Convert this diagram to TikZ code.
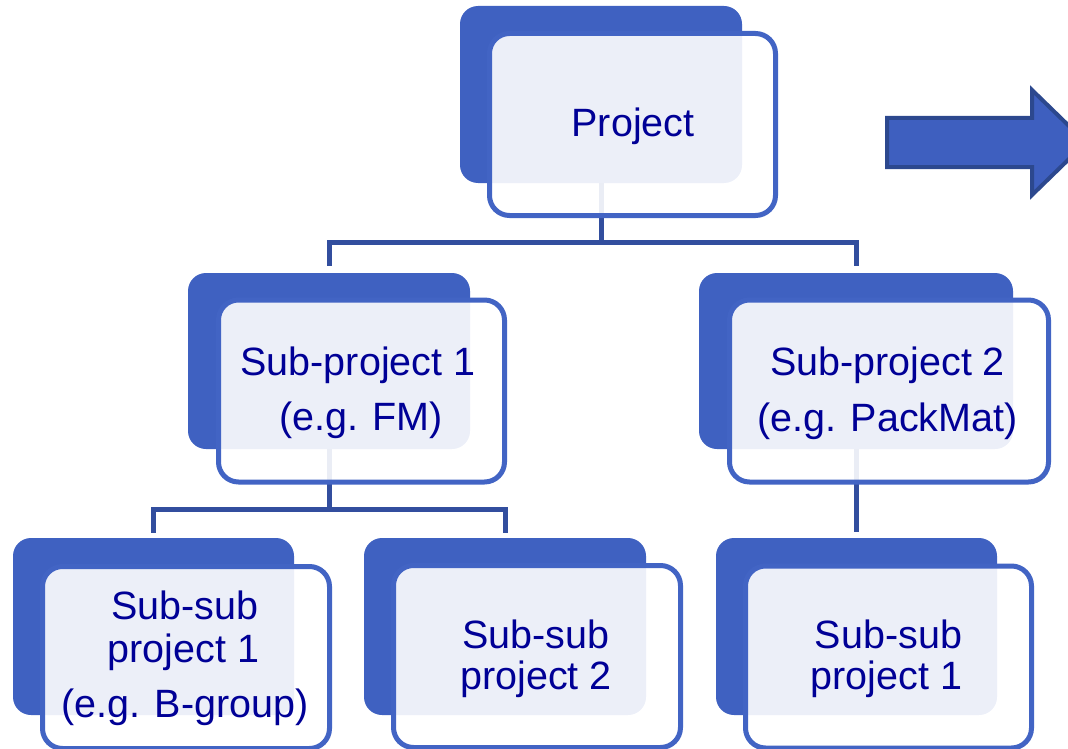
\documentclass[tikz,border=0pt]{standalone}
\usepackage{fontspec}
\setmainfont{Liberation Sans}
\usetikzlibrary{calc}

\definecolor{backblue}{RGB}{63,97,193}
\definecolor{frameblue}{RGB}{66,100,196}
\definecolor{linkblue}{RGB}{50,78,158}
\definecolor{textnavy}{RGB}{0,0,150}
\definecolor{arrowfill}{RGB}{62,95,191}
\definecolor{arrowdraw}{RGB}{44,72,142}

\begin{document}
\begin{tikzpicture}[x=1pt,y=-1pt,
  backbox/.style={draw=none, fill=backblue, rounded corners=18pt,
    inner sep=0pt, outer sep=0pt},
  frontbox/.style={draw=frameblue, line width=5pt, fill=white,
    fill opacity=0.9, rounded corners=20pt, inner sep=0pt, outer sep=0pt,
    minimum height=182pt},
  link/.style={draw=linkblue, line width=5pt},
  lbl/.style={anchor=base, inner sep=0pt, text=textnavy,
    font=\fontsize{39.5}{44}\selectfont},
  nextarrow/.style={fill=arrowfill, draw=arrowdraw, line width=4pt},
]
\useasboundingbox (0,0) rectangle (1068,749);
\clip (0,0) rectangle (1068,749);

% solid back plates
\node[backbox, minimum width=282pt, minimum height=177pt] (pB)   at (601,94.5)   {};
\node[backbox, minimum width=282pt, minimum height=176pt] (sp1B) at (329,361)    {};
\node[backbox, minimum width=314pt, minimum height=176pt] (sp2B) at (856,361)    {};
\node[backbox, minimum width=281pt, minimum height=177pt] (ss1B) at (153.5,626.5) {};
\node[backbox, minimum width=282pt, minimum height=177pt] (ss2B) at (505,626.5)  {};
\node[backbox, minimum width=281pt, minimum height=177pt] (ss3B) at (856.5,626.5) {};

% tree connectors
\coordinate (bar0) at (601,242);
\coordinate (bar1) at (329,509);
\draw[link] (pB.south) -- (bar0);
\draw[link, shorten >=7pt] (bar0) -| (sp1B.north);
\draw[link, shorten >=7pt] (bar0) -| (sp2B.north);
\draw[link] (sp1B.south) -- (bar1);
\draw[link, shorten >=5pt] (bar1) -| (ss1B.north);
\draw[link, shorten >=5pt] (bar1) -| (ss2B.north);
\draw[link, shorten >=6pt] (sp2B.south) -- (sp2B.south |- ss3B.north);

% translucent framed front cards
\node[frontbox, minimum width=286pt] (pF)   at (632.5,124.5) {};
\node[frontbox, minimum width=286pt] (sp1F) at (361.5,391)   {};
\node[frontbox, minimum width=319pt] (sp2F) at (889,391)     {};
\node[frontbox, minimum width=287pt] (ss1F) at (186,657.5)   {};
\node[frontbox, minimum width=287pt] (ss2F) at (537,656.5)   {};
\node[frontbox, minimum width=286pt] (ss3F) at (888.5,657)   {};

% labels
\node[lbl] (tP)    at (633,137)   {Project};
\node[lbl] (tS1a)  at (358,375)   {Sub-project 1};
\node[lbl] (tS1b)  at (361,430)   {(e.g. FM)};
\node[lbl] (tS2a)  at (887.5,375) {Sub-project 2};
\node[lbl] (tS2b)  at (887.5,431) {(e.g. PackMat)};
\node[lbl] (tSS1a) at (185,619)   {Sub-sub};
\node[lbl] (tSS1b) at (183.5,662) {project 1};
\node[lbl] (tSS1c) at (185,717)   {(e.g. B-group)};
\node[lbl] (tSS2a) at (536,648)   {Sub-sub};
\node[lbl] (tSS2b) at (536,689)   {project 2};
\node[lbl] (tSS3a) at (888.5,648) {Sub-sub};
\node[lbl] (tSS3b) at (886.5,689) {project 1};

% block arrow pointing onward
\draw[nextarrow] (887,118) -- (1032,118) -- (1032,90) -- (1086,142.5)
  -- (1032,195) -- (1032,167) -- (887,167) -- cycle;
\end{tikzpicture}
\end{document}
